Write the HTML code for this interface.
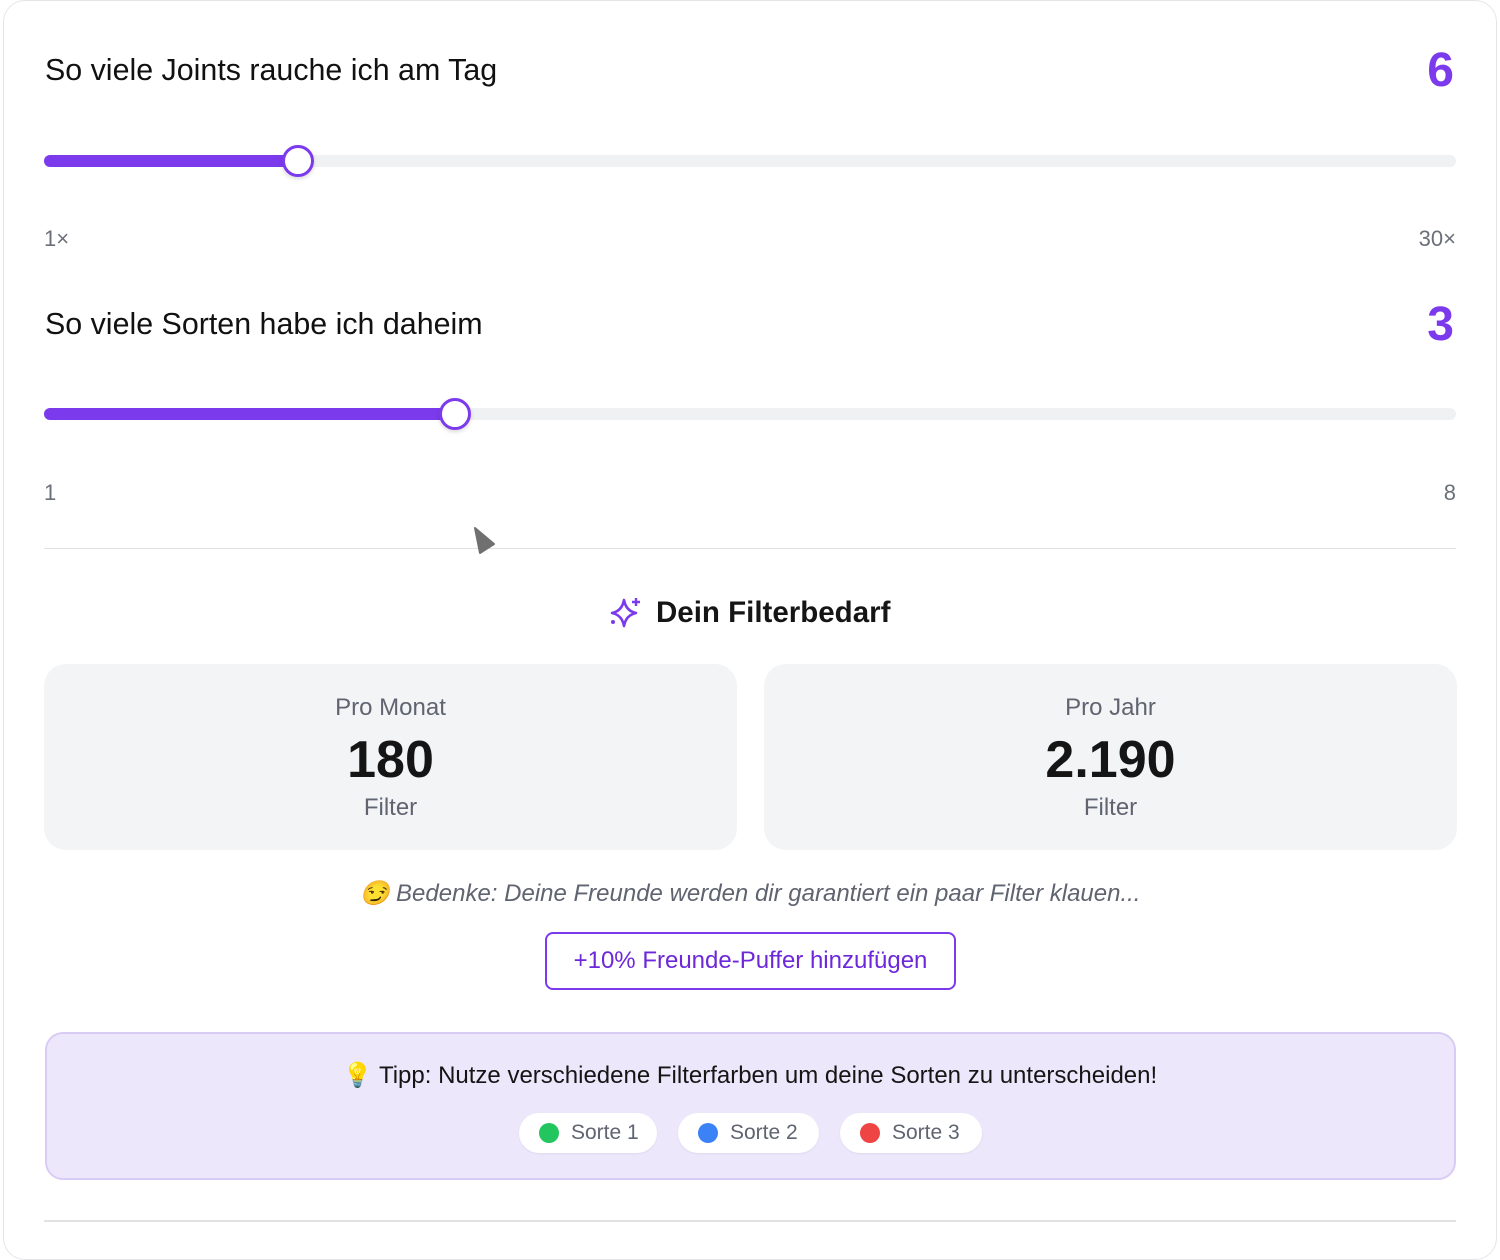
<!DOCTYPE html>
<html><head><meta charset="utf-8"><style>
*{margin:0;padding:0;box-sizing:border-box}
body{width:1500px;height:1225px;background:#fff;font-family:"Liberation Sans",sans-serif;position:relative;overflow:hidden;color:#1a1a1a}
.card{position:absolute;left:3px;top:0;width:1494px;height:1260px;border:1.5px solid #e5e5e8;border-radius:22px}
.a{position:absolute;white-space:nowrap}
.h{font-size:30.4px;color:#111}
.v{font-size:48px;font-weight:bold;color:#7c3aed}
.lab{font-size:22px;color:#6b6f78}
.track{position:absolute;left:44px;width:1412px;height:12px;border-radius:6px;background:#f0f1f3}
.fill{position:absolute;left:0;top:0;height:12px;border-radius:6px;background:#7c3aed}
.thumb{position:absolute;width:32px;height:32px;border-radius:50%;background:#fff;border:3px solid #7c3aed;box-shadow:0 2px 4px rgba(0,0,0,.15)}
.box{position:absolute;top:664px;width:693px;height:186px;background:#f3f4f6;border-radius:22px;text-align:center}
.box .t{margin-top:30px;font-size:24px;color:#5f6470;line-height:28px}
.box .n{margin-top:8px;font-size:52px;font-weight:bold;color:#151515;line-height:60px}
.box .f{margin-top:4px;font-size:24px;color:#5f6470;line-height:28px}
.pill{position:absolute;top:1113px;height:40px;background:#fff;border-radius:20px;font-size:21px;color:#5f6470;line-height:40px;padding-left:52px;box-shadow:0 1px 2px rgba(0,0,0,.06)}
.pill i{position:absolute;left:20px;top:10px;width:20px;height:20px;border-radius:50%}
</style></head><body>
<div class="card"></div>
<div class="a h" style="left:45px;top:53px">So viele Joints rauche ich am Tag</div>
<div class="a v" style="right:46px;top:43px">6</div>
<div class="track" style="top:155px"><div class="fill" style="width:256px"></div></div>
<div class="thumb" style="left:282px;top:145px"></div>
<div class="a lab" style="left:44px;top:226px">1×</div>
<div class="a lab" style="right:44px;top:226px">30×</div>

<div class="a h" style="left:45px;top:307px">So viele Sorten habe ich daheim</div>
<div class="a v" style="right:46px;top:297px">3</div>
<div class="track" style="top:408px"><div class="fill" style="width:412px"></div></div>
<div class="thumb" style="left:439px;top:398px"></div>
<div class="a lab" style="left:44px;top:480px">1</div>
<div class="a lab" style="right:44px;top:480px">8</div>

<div class="a" style="left:44px;top:548px;width:1412px;height:1px;background:#e2e2e5"></div>
<svg class="a" style="left:472px;top:526px" width="26" height="30"><path d="M3 2 L22 18 L8 27 Z" fill="#707070" stroke="#707070" stroke-linejoin="round" stroke-width="2"/></svg>

<svg class="a" style="left:608px;top:596px" width="36" height="34" viewBox="0 0 36 34"><path d="M16 4 Q18 15 28 17 Q18 19 16 30 Q14 19 4 17 Q14 15 16 4Z" fill="none" stroke="#7c3aed" stroke-width="2.6" stroke-linejoin="round"/><path d="M28 2v8M24 6h8" stroke="#7c3aed" stroke-width="2.4"/><circle cx="5" cy="26" r="2" fill="#7c3aed"/></svg>
<div class="a" style="left:656px;top:596px;font-size:29.5px;font-weight:bold;color:#151515">Dein Filterbedarf</div>

<div class="box" style="left:44px"><div class="t">Pro Monat</div><div class="n">180</div><div class="f">Filter</div></div>
<div class="box" style="left:764px"><div class="t">Pro Jahr</div><div class="n">2.190</div><div class="f">Filter</div></div>

<div class="a" style="left:0;width:1500px;top:879px;text-align:center;font-size:24px;font-style:italic;color:#5f6470">😏 Bedenke: Deine Freunde werden dir garantiert ein paar Filter klauen...</div>
<div class="a" style="left:545px;top:932px;width:411px;height:58px;border:2px solid #7c3aed;border-radius:8px;text-align:center;line-height:54px;font-size:24px;color:#6d28d9">+10% Freunde-Puffer hinzufügen</div>

<div class="a" style="left:45px;top:1032px;width:1411px;height:148px;background:#ede7fb;border:2px solid #d9ccf4;border-radius:18px"></div>
<div class="a" style="left:0;width:1500px;top:1061px;text-align:center;font-size:24px;color:#151515">💡 Tipp: Nutze verschiedene Filterfarben um deine Sorten zu unterscheiden!</div>
<div class="pill" style="left:519px;width:138px"><i style="background:#22c55e"></i>Sorte 1</div>
<div class="pill" style="left:678px;width:141px"><i style="background:#3b82f6"></i>Sorte 2</div>
<div class="pill" style="left:840px;width:142px"><i style="background:#ef4444"></i>Sorte 3</div>
<div class="a" style="left:44px;top:1220px;width:1412px;height:2px;background:#e2e2e5"></div>
</body></html>
